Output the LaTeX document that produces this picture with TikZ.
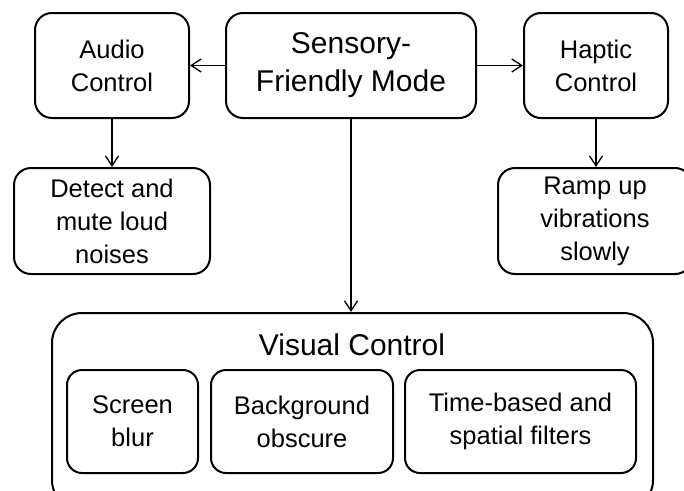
\documentclass[tikz,border=0pt]{standalone}
\usepackage{fontspec}
\setmainfont{Liberation Sans}
\usetikzlibrary{arrows.meta}

\begin{document}
\begin{tikzpicture}[x=1pt,y=-1pt,
  box/.style={draw, line width=2pt, rounded corners=17pt, inner sep=0pt,
    align=center, font=\fontsize{25.5}{33}\selectfont},
  sub/.style={box, rounded corners=15pt, minimum height=103pt},
  link/.style={-{Straight Barb[length=10pt,width=13pt]}, line width=1.3pt}]
\useasboundingbox (0,0) rectangle (684,490);
\clip (0,0) rectangle (684,490);

\node[box, minimum width=250pt, minimum height=105pt,
  font=\fontsize{30}{38}\selectfont] (mode) at (351,65.5) {Sensory-\\Friendly Mode};
\node[box, minimum width=154pt, minimum height=105pt] (audio)  at (112,65.5) {Audio\\Control};
\node[box, minimum width=144pt, minimum height=105pt] (haptic) at (596,65.5) {Haptic\\Control};
\node[box, minimum width=196pt, minimum height=106pt] (detect) at (112,221) {Detect and\\mute loud\\noises};
\node[box, minimum width=194pt, minimum height=106pt] (ramp)   at (595,221) {Ramp up\\vibrations\\slowly};

% visual block with its three filters
\node[box, rounded corners=30pt, minimum width=601pt, minimum height=197pt] (visual) at (352.5,411.5) {};
\node[font=\fontsize{30}{36}\selectfont] (vtitle) at (352,345) {Visual Control};
\node[sub, minimum width=131pt] (blur)   at (132.5,421.5) {Screen\\blur};
\node[sub, minimum width=182pt] (obsc)   at (302,421.5)   {Background\\obscure};
\node[sub, minimum width=231pt] (filter) at (520.5,421.5) {Time-based and\\spatial filters};

\draw[link] (mode) -- (audio);
\draw[link] (mode) -- (haptic);
\draw[link] (audio) -- (detect);
\draw[link] (haptic.south) -- (haptic.south |- ramp.north);
\draw[link] (mode.south) -- (mode.south |- visual.north);

\end{tikzpicture}
\end{document}
